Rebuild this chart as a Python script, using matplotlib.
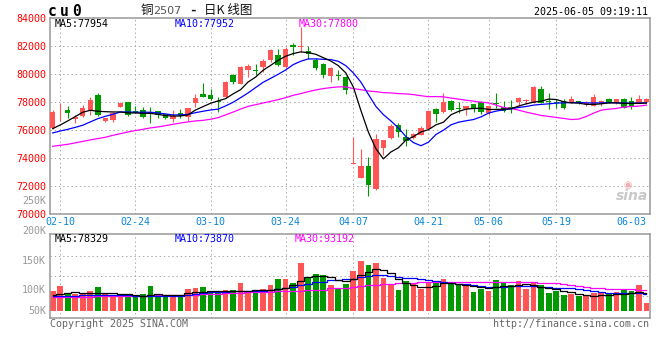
import matplotlib
matplotlib.use('Agg')
import numpy as np
import matplotlib.pyplot as plt

# trading days shown on the chart (2025)
dates = ['02-07', '02-10', '02-11', '02-12', '02-13', '02-14', '02-17', '02-18', '02-19', '02-20',
         '02-21', '02-24', '02-25', '02-26', '02-27', '02-28', '03-03', '03-04', '03-05', '03-06',
         '03-07', '03-10', '03-11', '03-12', '03-13', '03-14', '03-17', '03-18', '03-19', '03-20',
         '03-21', '03-24', '03-25', '03-26', '03-27', '03-28', '03-31', '04-01', '04-02', '04-03',
         '04-07', '04-08', '04-09', '04-10', '04-11', '04-14', '04-15', '04-16', '04-17', '04-18',
         '04-21', '04-22', '04-23', '04-24', '04-25', '04-28', '04-29', '04-30', '05-06', '05-07',
         '05-08', '05-09', '05-12', '05-13', '05-14', '05-15', '05-16', '05-19', '05-20', '05-21',
         '05-22', '05-23', '05-26', '05-27', '05-28', '05-29', '05-30', '06-03', '06-04', '06-05']

opens = [76150, 77430, 77450, 76790, 77050, 77450, 78520, 76690, 76740, 77690,
         78050, 77380, 77450, 77330, 77380, 77140, 76810, 77260, 76980, 77930,
         78570, 78520, 78100, 78380, 79930, 79330, 80290, 80300, 80520, 81000,
         81360, 80520, 82100, 81980, 81670, 81000, 80760, 79860, 79950, 79810,
         73600, 72620, 73450, 71790, 74740, 75450, 76360, 75520, 75480, 75700,
         76100, 77530, 77300, 78080, 77560, 77540, 77850, 78010, 77250, 77950,
         77680, 77620, 78010, 78140, 77960, 78960, 78100, 78010, 78080, 77960,
         78080, 77900, 77730, 77850, 78250, 78010, 78200, 78080, 77960, 78010]
highs = [77450, 77950, 77740, 77070, 77810, 78400, 78690, 76880, 77330, 78050,
         78050, 77760, 77640, 77690, 77380, 77190, 77450, 77500, 77570, 78600,
         79360, 78930, 78380, 79520, 80050, 80600, 80760, 80760, 81120, 81830,
         81830, 81950, 82250, 83400, 82000, 81190, 80810, 80520, 80330, 79860,
         75520, 74640, 74100, 75710, 75330, 76430, 76520, 76120, 75810, 76300,
         77450, 77600, 78680, 78160, 78000, 77730, 77890, 78080, 77770, 78680,
         78080, 78160, 78370, 78250, 79150, 79200, 78680, 78250, 78250, 78440,
         78080, 78080, 78560, 78200, 78320, 78250, 78320, 78370, 78490, 78320]
lows = [76100, 76700, 76900, 76550, 76980, 77100, 77050, 76620, 76620, 77640,
        77050, 77210, 76900, 76550, 76860, 76790, 76620, 76860, 76670, 77640,
        78360, 78170, 77310, 78330, 79290, 79290, 79810, 79930, 80170, 80880,
        80570, 80480, 81350, 81600, 81120, 80330, 79740, 79450, 79570, 78620,
        73560, 72620, 71310, 71710, 74210, 75400, 75520, 74860, 75400, 75650,
        76000, 76580, 77250, 77370, 77250, 77060, 77300, 77200, 77060, 77610,
        77300, 77250, 77770, 77850, 77960, 77950, 77540, 77600, 77540, 77920,
        77850, 77730, 77730, 77770, 77920, 77850, 77560, 77490, 77920, 77960]
closes = [77330, 77470, 77210, 76980, 77570, 78170, 77100, 76860, 77210, 77930,
          77100, 77260, 76980, 77210, 77100, 76860, 77020, 77020, 77570, 78330,
          78360, 78240, 78000, 79450, 79450, 80520, 80570, 80250, 80930, 81710,
          80640, 81830, 81950, 82020, 81480, 80450, 79930, 80480, 79900, 78860,
          73640, 73450, 72070, 75380, 75290, 76310, 75880, 75240, 75760, 76200,
          77400, 77200, 78010, 77440, 77500, 77730, 77610, 77300, 77730, 77900,
          77370, 77580, 78320, 78180, 79080, 77960, 78050, 77920, 77610, 78200,
          77960, 77930, 78370, 78080, 77960, 78200, 77610, 77730, 78250, 78250]

ma5 = [76120, 76380, 76670, 76980, 77290, 77430, 77360, 77330, 77310, 77310,
       77240, 77240, 77210, 77210, 77140, 77050, 77020, 77020, 77100, 77450,
       77690, 77930, 78100, 78260, 78600, 78900, 79450, 79800, 80290, 80640,
       81000, 81290, 81480, 81600, 81550, 81430, 81190, 80950, 80620, 80100,
       79100, 77430, 75880, 74690, 73960, 74450, 74750, 75300, 75550, 75880,
       76050, 76390, 76580, 77110, 77350, 77510, 77560, 77580, 77490, 77490,
       77510, 77540, 77730, 77890, 78010, 78080, 78230, 78200, 78040, 77960,
       77940, 77850, 77850, 77890, 77960, 77960, 77920, 77920, 77920, 77954]
ma10 = [75810, 75950, 76070, 76210, 76360, 76600, 76830, 77000, 77140, 77310,
        77310, 77290, 77290, 77290, 77240, 77170, 77100, 77100, 77140, 77260,
        77360, 77450, 77510, 77740, 78000, 78330, 78670, 79050, 79430, 79710,
        80000, 80310, 80690, 80930, 81100, 81100, 81070, 81050, 80930, 80620,
        80100, 79450, 78570, 77710, 77120, 76670, 76170, 75550, 75120, 74900,
        75150, 75700, 76010, 76390, 76580, 76680, 76770, 76960, 77230, 77370,
        77460, 77540, 77630, 77700, 77800, 77850, 77890, 77940, 77960, 77980,
        77990, 77960, 77950, 77960, 77970, 77960, 77950, 77940, 77950, 77952]
ma30 = [74860, 74930, 75000, 75100, 75210, 75310, 75410, 75500, 75640, 75760,
        75880, 75980, 76070, 76170, 76240, 76330, 76430, 76520, 76600, 76670,
        76710, 76790, 76900, 77100, 77300, 77520, 77710, 77830, 77950, 78070,
        78190, 78330, 78500, 78620, 78760, 78880, 78980, 79050, 79100, 79100,
        78980, 78900, 78810, 78760, 78690, 78670, 78620, 78600, 78550, 78470,
        78400, 78410, 78390, 78300, 78230, 78150, 78080, 78010, 77960, 77800,
        77630, 77560, 77440, 77300, 77180, 77060, 76990, 76920, 76850, 76770,
        76800, 76990, 77230, 77440, 77510, 77560, 77660, 77700, 77730, 77800]

volume = [89400, 99400, 84700, 83400, 84700, 89400, 97400, 84700, 80000, 80700,
          80000, 76700, 83400, 99400, 83400, 80700, 79400, 81400, 93400, 95400,
          97400, 88000, 90000, 91400, 91400, 106000, 90000, 90000, 93400, 101400,
          113400, 113400, 106000, 146000, 116700, 123400, 121400, 101400, 94700, 102700,
          130000, 149400, 141400, 146100, 116100, 101400, 91400, 109400, 106100, 93400,
          108100, 106100, 113400, 104700, 101400, 101400, 88100, 93400, 90100, 111400,
          106100, 101400, 109400, 93400, 104700, 101400, 86100, 90100, 81400, 83400,
          79400, 81400, 84800, 88000, 83400, 88000, 91400, 90000, 101400, 66000]
vol_ma5 = [81000, 83000, 85000, 86500, 86000, 85500, 86000, 85500, 85000, 84000,
           83000, 81000, 80000, 82000, 82500, 82000, 81000, 82000, 86000, 87400,
           88000, 89000, 89400, 89400, 89400, 90000, 90000, 90500, 91000, 92000,
           93000, 95000, 101000, 110000, 117000, 119500, 119500, 118000, 111400, 110000,
           112700, 121400, 128000, 132700, 131400, 124700, 112700, 106000, 101400, 98000,
           96700, 99400, 104700, 104700, 103400, 102000, 100000, 98000, 96000, 98000,
           99400, 99400, 101400, 102700, 100700, 98000, 95400, 93400, 90000, 86700,
           83400, 80700, 79400, 80700, 82000, 83400, 83400, 84700, 88000, 84700]
vol_ma10 = [79400, 79700, 80000, 80400, 81000, 81400, 82000, 82000, 82000, 82000,
            81400, 80000, 80000, 80000, 80000, 80000, 80000, 80000, 82000, 84000,
            85400, 86500, 87400, 88000, 89000, 89400, 89400, 89400, 90000, 91400,
            93400, 95400, 97400, 101400, 104000, 106700, 108000, 111400, 112000, 112700,
            114000, 116700, 120000, 121400, 121400, 120000, 118000, 116000, 114700, 112700,
            111400, 109400, 107400, 104700, 103400, 102700, 100700, 99400, 98000, 98000,
            98000, 98700, 99400, 99400, 99400, 98000, 97400, 96000, 95400, 94700,
            92700, 90700, 88700, 87400, 86000, 85400, 84700, 84700, 84700, 83400]
vol_ma30 = [76700, 77000, 77400, 77700, 78000, 78400, 78700, 79000, 79400, 79700,
            80000, 80000, 80400, 80700, 80700, 81000, 81000, 81400, 81400, 82000,
            82700, 83400, 84000, 84700, 85400, 86000, 86700, 87400, 88000, 88400,
            88700, 89400, 90000, 90000, 90700, 91400, 92000, 94700, 95400, 96000,
            97400, 99400, 100700, 102000, 103400, 104000, 104700, 105400, 106000, 106700,
            106700, 107400, 107400, 108000, 108000, 108000, 108000, 108000, 108000, 108000,
            108000, 108000, 108000, 107400, 107400, 106000, 105400, 104700, 103400, 101400,
            99400, 98000, 96000, 94700, 93400, 93400, 92700, 92700, 92000, 91400]

tick_dates = ['02-10', '02-24', '03-10', '03-24', '04-07', '04-21', '05-06', '05-19', '06-03']
grid_dates = tick_dates[:-1]
price_ticks = [70000, 72000, 74000, 76000, 78000, 80000, 82000, 84000]
vol_grid = [80000, 120000, 160000]
vol_labels = ['250K', '200K', '150K', '100K', '50K']
vol_label_pos = [270000, 210000, 150000, 91000, 50000]
VOL_BASE = 50000

W, H = 660, 360
RED = '#ff5555'
GREEN = '#009900'
GRID = '#aaaaaa'
FRAME = '#999999'
DATE_BLUE = '#0a86d6'
MONO = 'DejaVu Sans Mono'
CJK = ['Noto Sans CJK SC', 'DejaVu Sans']
FS = 7.2
DOT = (0, (1.4, 2.8))


def box(l, t, r, b):
    return [l / W, 1 - b / H, (r - l) / W, (b - t) / H]


def fx(x):
    return x / W


def fy(y):
    return 1 - y / H


o = np.array(opens)
c = np.array(closes)
x = np.arange(len(dates))
colors = np.where(c >= o, RED, GREEN)
grid_idx = [dates.index(d) for d in grid_dates]
tick_idx = [dates.index(d) for d in tick_dates]

fig = plt.figure(figsize=(6.6, 3.6), dpi=100)
ax = fig.add_axes(box(50, 18.3, 650, 214.3))
axv = fig.add_axes(box(50, 234.3, 650, 318.3))

for a in (ax, axv):
    a.set_xlim(-0.36, len(dates) - 0.52)
    for s in a.spines.values():
        s.set_color(FRAME)
        s.set_linewidth(1.1)
    for i in grid_idx:
        a.axvline(i, color=GRID, lw=0.72, ls=DOT, zorder=0)

# price panel
ax.set_ylim(price_ticks[0], price_ticks[-1])
for p in price_ticks[1:-1]:
    ax.axhline(p, color=GRID, lw=0.72, ls=DOT, zorder=0)
ax.vlines(x, lows, highs, colors=colors, lw=0.8, zorder=2)
body = np.maximum(np.abs(c - o), 70)
ax.bar(x, body, bottom=np.minimum(o, c) - (body - np.abs(c - o)) / 2,
       width=0.72, color=colors, lw=0, zorder=3)
ax.plot(x, ma30, color='#ff00ff', lw=0.9, zorder=4)
ax.plot(x, ma10, color='#0000ff', lw=0.9, zorder=4)
ax.plot(x, ma5, color='black', lw=0.9, zorder=5)

ax.set_yticks(price_ticks)
ax.set_yticklabels([str(p) for p in price_ticks], fontfamily=MONO, fontsize=FS, color='red')
ax.set_xticks(tick_idx)
ax.set_xticklabels(tick_dates, fontfamily=MONO, fontsize=FS, color=DATE_BLUE)
ax.tick_params(length=0, pad=2.8)
ax.tick_params(axis='x', pad=2.2)

ax.text(5 / 600, 1 - 6 / 196, 'MA5:77954', transform=ax.transAxes,
        fontfamily=MONO, fontsize=FS, color='black', va='center')
ax.text(125 / 600, 1 - 6 / 196, 'MA10:77952', transform=ax.transAxes,
        fontfamily=MONO, fontsize=FS, color='#0000ff', va='center')
ax.text(249 / 600, 1 - 6 / 196, 'MA30:77800', transform=ax.transAxes,
        fontfamily=MONO, fontsize=FS, color='#ff00ff', va='center')

# volume panel
axv.set_ylim(34800, 202800)
for v in vol_grid:
    axv.axhline(v, color=GRID, lw=0.72, ls=DOT, zorder=0)
axv.bar(x, np.array(volume) - VOL_BASE, bottom=VOL_BASE, width=0.75, color=colors, lw=0, zorder=2)
axv.plot(x, vol_ma30, color='#ff00ff', lw=0.9, drawstyle='steps-mid', zorder=3)
axv.plot(x, vol_ma10, color='#0000ff', lw=0.9, drawstyle='steps-mid', zorder=3)
axv.plot(x, vol_ma5, color='black', lw=0.9, drawstyle='steps-mid', zorder=4)
axv.set_xticks([])
axv.set_yticks([])
for lab, v in zip(vol_labels, vol_label_pos):
    axv.text(-4 / 600, v, lab, transform=axv.get_yaxis_transform(), ha='right', va='center',
             fontfamily=MONO, fontsize=FS, color='#999999', clip_on=False)

axv.text(5 / 600, 1 - 4.2 / 84, 'MA5:78329', transform=axv.transAxes,
         fontfamily=MONO, fontsize=FS, color='black', va='center')
axv.text(125 / 600, 1 - 4.2 / 84, 'MA10:73870', transform=axv.transAxes,
         fontfamily=MONO, fontsize=FS, color='#0000ff', va='center')
axv.text(245 / 600, 1 - 4.2 / 84, 'MA30:93192', transform=axv.transAxes,
         fontfamily=MONO, fontsize=FS, color='#ff00ff', va='center')

# header: symbol, title, timestamp
for k, ch in enumerate('cu0'):
    fig.text(fx(48 + 12 * k), fy(12), ch, fontfamily=MONO, fontweight='bold',
             fontsize=10.5, va='center')
fig.text(fx(141), fy(10.5), '铜', fontfamily=CJK, fontsize=9, va='center', color='#111111')
fig.text(fx(153), fy(10.5), '2507', fontfamily='DejaVu Sans', fontsize=8, va='center', color='#555555')
fig.text(fx(193), fy(10.5), '-', fontfamily=MONO, fontsize=9, fontweight='bold', ha='center',
         va='center', color='#111111')
fig.text(fx(204), fy(10.5), '日K 线图', fontfamily=CJK, fontsize=9, va='center', color='#111111')
fig.text(fx(648), fy(12), '2025-06-05 09:19:11', fontfamily=MONO, fontsize=FS,
         ha='right', va='center', color='black')

# footer and watermark
fig.text(fx(50), fy(324), 'Copyright 2025 SINA.COM', fontfamily=MONO, fontsize=FS,
         va='center', color='#666666')
fig.text(fx(649), fy(324), 'http://finance.sina.com.cn', fontfamily=MONO, fontsize=FS,
         ha='right', va='center', color='#666666')
fig.text(fx(632), fy(196), 'sina', fontsize=10, fontweight='bold', fontstyle='italic',
         ha='center', va='center', color='#c8c8c8')
fig.text(fx(628), fy(185), '◉', fontsize=7, ha='center', va='center', color='#f2b0b0')

fig.savefig('out.png', dpi=100)
